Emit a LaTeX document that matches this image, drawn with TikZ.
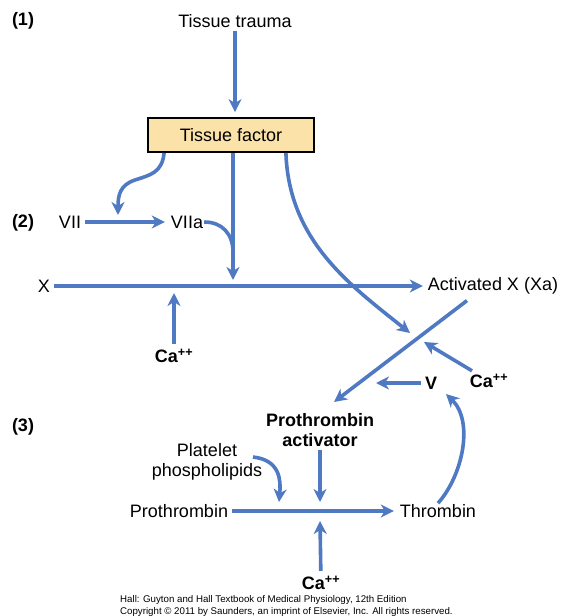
\documentclass[tikz,border=0pt]{standalone}
\usepackage{fontspec}
\setmainfont{Liberation Sans}
\usetikzlibrary{arrows.meta,calc}
\definecolor{pathblue}{RGB}{79,121,194}
\definecolor{boxfill}{RGB}{251,226,168}

\begin{document}
\begin{tikzpicture}[x=1pt, y=-1pt,
	txt/.style={font=\fontsize{18}{19.5}\selectfont, inner sep=1pt},
	btxt/.style={txt, font=\fontsize{18}{19.5}\selectfont\bfseries},
	flow/.style={pathblue, line width=3.6pt, -{Stealth[length=13pt, width=13pt, inset=4pt]}},
	link/.style={pathblue, line width=3.6pt}]
	\useasboundingbox (0,0) rectangle (574,616);

	% stage labels
	\node[btxt] (lab1) at (23,21) {(1)};
	\node[btxt] (lab2) at (23,223) {(2)};
	\node[btxt] (lab3) at (23,427) {(3)};

	\node[txt] (trauma) at (235,21) {Tissue trauma};
	\node[txt, draw=black, line width=1.8pt, fill=boxfill, minimum width=166pt, minimum height=34pt] (tf) at (231,135) {Tissue factor};
	\node[txt] (vii) at (70,222) {VII};
	\node[txt] (viia) at (187,222) {VIIa};
	\node[txt] (x) at (44,286) {X};
	\node[txt] (xa) at (493,286) {Activated X (Xa)};
	\node[btxt] (caA) at (174,356) {Ca\textsuperscript{++}};
	\node[btxt] (caB) at (489,381) {Ca\textsuperscript{++}};
	\node[btxt] (v) at (431,383) {V};
	\node[btxt, align=center] (act) at (320,430) {Prothrombin\\activator};
	\node[txt, align=center] (plat) at (207,462) {Platelet\\phospholipids};
	\node[txt] (proth) at (179,511) {Prothrombin};
	\node[txt] (thr) at (438,511) {Thrombin};
	\node[btxt] (caC) at (321,583) {Ca\textsuperscript{++}};
	\node[font=\fontsize{9.7}{12}\selectfont, align=left, anchor=west, inner sep=0pt] (src) at (120,606)
		{Hall: Guyton and Hall Textbook of Medical Physiology, 12th Edition\\Copyright \textcopyright{} 2011 by Saunders, an imprint of Elsevier, Inc. All rights reserved.};

	% junction points
	\coordinate (jVII) at (118,222);
	\coordinate (jX) at (233,286);
	\coordinate (jXa) at (415,337);
	\coordinate (jAct) at (334,402);
	\coordinate (jV) at (376,383);
	\coordinate (jThr) at (446,394);
	\coordinate (jPl) at (253,457);
	\coordinate (jP) at (320,512);

	\draw[flow, shorten <=2pt, shorten >=5pt] (trauma) -- (trauma |- tf.north);
	\draw[flow] ($(tf.south west)+(17,0)$) .. controls +(-2,20) and +(15,-5) .. (135,180) .. controls +(-15,5) and +(0,-20) .. ($(jVII)+(0,-7)$);
	\draw[flow, shorten <=3pt, shorten >=5pt] (vii) -- (viia);
	\draw[flow] (tf.south -| jX) -- ($(jX)+(0,-6)$);
	\draw[link] (viia.east) .. controls +(18,0) and +(0,-18) .. ($(jX)+(0,-34)$);
	\draw[flow, shorten <=3pt, shorten >=4pt] (x) -- (xa);
	\draw[flow, shorten <=4pt] (caA) -- ($(caA |- jX)+(0,7)$);
	\draw[flow] ($(tf.south east)+(-29,0)$) .. controls +(3,88) and +(-60,-48) .. ($(jXa)+(-5,-4)$);
	\draw[flow] ($(xa.south)+(-26,5)$) -- (jAct);
	\draw[flow, shorten <=4pt] (caB) -- ($(jXa)+(9,5)$);
	\draw[flow, shorten <=3pt] (v) -- (jV);
	\draw[flow] (thr.north) .. controls +(25,-28) and +(28,27) .. (jThr);
	\draw[flow, shorten <=2pt] (act) -- ($(jP)+(0,-10)$);
	\draw[flow] (jPl) .. controls +(27,3) and +(2,-22) .. ($(jP)+(-41,-10)$);
	\draw[flow, shorten <=3pt, shorten >=5pt] (proth) -- (thr);
	\draw[flow, shorten <=4pt] (caC) -- ($(jP)+(0,9)$);
\end{tikzpicture}
\end{document}
